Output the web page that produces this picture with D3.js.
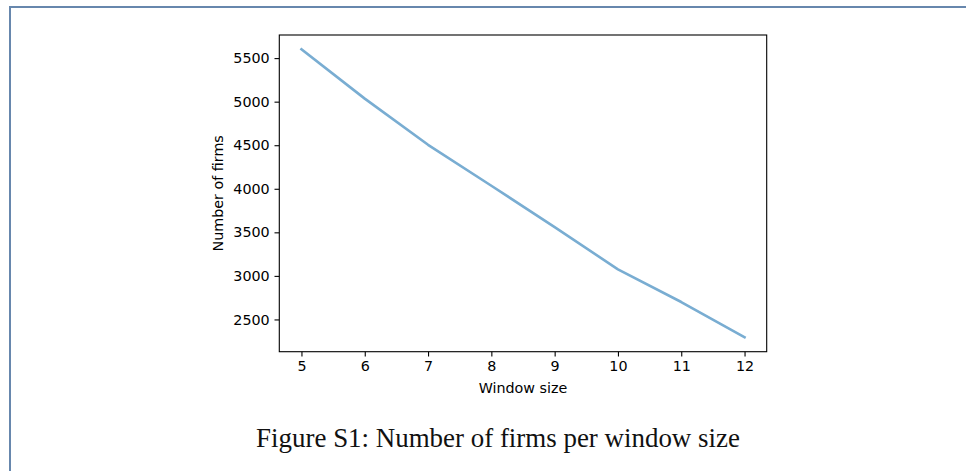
<!DOCTYPE html>
<html>
<head>
<meta charset="utf-8">
<script src="https://cdn.jsdelivr.net/npm/d3@7"></script>
<style>
  html, body { margin: 0; padding: 0; background: #fff; }
  svg { display: block; }
</style>
</head>
<body>
<svg id="chart" width="966" height="471"></svg>
<script>
const windowSizes = [5, 6, 7, 8, 9, 10, 11, 12];
const numberOfFirms = [5600, 5035, 4505, 4035, 3560, 3075, 2700, 2295];
const yTickValues = [2500, 3000, 3500, 4000, 4500, 5000, 5500];
const xTickValues = [5, 6, 7, 8, 9, 10, 11, 12];
const xLabel = "Window size";
const yLabel = "Number of firms";
const caption = "Figure S1: Number of firms per window size";

const svg = d3.select("#chart");
const W = 966, H = 471;

// page border
svg.append("rect")
  .attr("x", 10).attr("y", 7)
  .attr("width", W).attr("height", H)
  .attr("fill", "none")
  .attr("stroke", "#6787ad")
  .attr("stroke-width", 2);

const plot = { left: 279.3, right: 766.7, top: 35, bottom: 351.7 };

const xmin = d3.min(windowSizes), xmax = d3.max(windowSizes);
const xpad = (xmax - xmin) * 0.05;
const ymin = d3.min(numberOfFirms), ymax = d3.max(numberOfFirms);
const ypad = (ymax - ymin) * 0.05;

const x = d3.scaleLinear().domain([xmin - xpad, xmax + xpad]).range([plot.left, plot.right]);
const y = d3.scaleLinear().domain([ymin - ypad, ymax + ypad]).range([plot.bottom, plot.top]);

const font = "'DejaVu Sans', sans-serif";
const fs = 14.3;

const xAxis = svg.append("g")
  .attr("transform", `translate(0,${plot.bottom})`)
  .call(d3.axisBottom(x).tickValues(xTickValues).tickFormat(d3.format("d")).tickSize(4.8).tickPadding(4.8));
const yAxis = svg.append("g")
  .attr("transform", `translate(${plot.left},0)`)
  .call(d3.axisLeft(y).tickValues(yTickValues).tickFormat(d3.format("d")).tickSize(4.8).tickPadding(4.8));

[xAxis, yAxis].forEach(g => {
  g.select(".domain").remove();
  g.attr("font-size", null).attr("font-family", null);
  g.selectAll(".tick line").attr("stroke", "#000").attr("stroke-width", 1.1);
  g.selectAll(".tick text").attr("fill", "#000").style("font-family", font).style("font-size", fs + "px");
});

// spines
svg.append("rect")
  .attr("x", plot.left).attr("y", plot.top)
  .attr("width", plot.right - plot.left).attr("height", plot.bottom - plot.top)
  .attr("fill", "none").attr("stroke", "#000").attr("stroke-width", 1.1);

// line
const line = d3.line().x((d, i) => x(windowSizes[i])).y(d => y(d));
svg.append("path")
  .datum(numberOfFirms)
  .attr("d", line)
  .attr("fill", "none")
  .attr("stroke", "#79add2")
  .attr("stroke-width", 2.6)
  .attr("stroke-linejoin", "round")
  .attr("stroke-linecap", "square");

// axis labels
svg.append("text")
  .attr("x", (plot.left + plot.right) / 2)
  .attr("y", 393)
  .attr("text-anchor", "middle")
  .style("font-family", font).style("font-size", fs + "px")
  .text(xLabel);

svg.append("text")
  .attr("transform", `translate(223,${(plot.top + plot.bottom) / 2}) rotate(-90)`)
  .attr("text-anchor", "middle")
  .style("font-family", font).style("font-size", fs + "px")
  .text(yLabel);

// caption
const cap = svg.append("text")
  .attr("x", 498)
  .attr("y", 447)
  .attr("text-anchor", "middle")
  .style("font-family", "'Liberation Serif', 'DejaVu Serif', serif")
  .style("font-size", "24px")
  .attr("fill", "#111")
  .text(caption);
const len = cap.node().getComputedTextLength();
cap.style("font-size", (24 * 484 / len).toFixed(2) + "px");
</script>
</body>
</html>
